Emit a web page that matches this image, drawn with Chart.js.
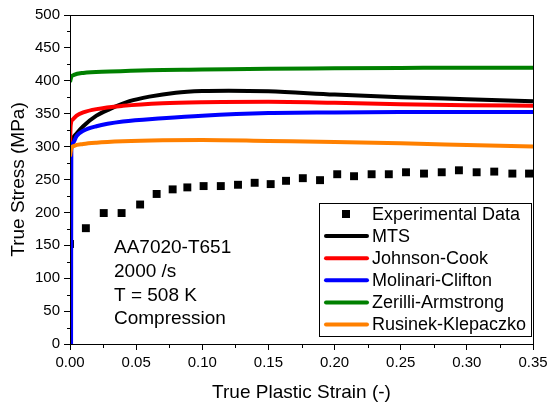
<!DOCTYPE html>
<html lang="en">
<head>
<meta charset="UTF-8">
<title>AA7020-T651 true stress vs strain</title>
<script src="https://cdn.jsdelivr.net/npm/chart.js"></script>
<style>
  html, body { margin: 0; padding: 0; background: #fff; }
</style>
</head>
<body>
<canvas id="stressChart" width="549" height="406"></canvas>
<script>
// experimental points (strain, MPa)
const expStrain = [0.000, 0.012, 0.0255, 0.039, 0.053, 0.0655, 0.0776, 0.0887, 0.101, 0.114, 0.127, 0.1396, 0.1517,
                   0.1633, 0.176, 0.189, 0.202, 0.2147, 0.228, 0.241, 0.254, 0.2676, 0.281, 0.294, 0.3074, 0.3207, 0.3344, 0.347];
const expStress = [152, 176, 199, 199, 212, 228, 235, 238, 240, 240, 242, 245, 243,
                   248, 252, 249, 258, 255, 258, 258, 261, 259, 261, 264, 261, 262, 259, 259];

// model curves
const mtsStrain = [0, 0.002, 0.005, 0.01, 0.02, 0.03, 0.045, 0.06, 0.08, 0.1, 0.12, 0.15, 0.2, 0.25, 0.3, 0.35];
const mtsStress = [300, 312, 320, 331, 347, 357, 369, 376, 382, 384.5, 385, 384, 379, 375, 372, 369];

const jcStrain = [0, 0.0005, 0.002, 0.005, 0.01, 0.02, 0.04, 0.07, 0.1, 0.15, 0.2, 0.25, 0.3, 0.35];
const jcStress = [300, 332, 341, 347, 352, 357, 362, 366, 367.5, 368, 366.5, 364.5, 363, 362];

const mcStrain = [0.0008, 0.001, 0.002, 0.005, 0.01, 0.02, 0.04, 0.07, 0.1, 0.15, 0.2, 0.25, 0.3, 0.35];
const mcStress = [0, 295, 305, 316, 324, 331, 338, 343, 347, 351, 352, 352.5, 352.5, 352.5];

const zaStrain = [0, 0.001, 0.003, 0.01, 0.03, 0.06, 0.1, 0.15, 0.2, 0.25, 0.3, 0.35];
const zaStress = [398, 406, 409, 412, 414, 416, 417, 418.5, 419, 419.5, 420, 420];

const rkStrain = [0, 0.001, 0.003, 0.01, 0.02, 0.04, 0.07, 0.1, 0.15, 0.2, 0.25, 0.3, 0.35];
const rkStress = [285, 297, 301, 304, 306, 308, 309.5, 310, 308.5, 307, 305, 302.5, 300];

const infoLines = ['AA7020-T651', '2000 /s', 'T = 508 K', 'Compression'];

const FONT = "Arial, 'Liberation Sans', sans-serif";

function toPoints(xs, ys) {
    return xs.map((x, i) => ({ x: x, y: ys[i] }));
}

function curve(label, color, xs, ys, order) {
    return {
        label: label,
        data: toPoints(xs, ys),
        showLine: true,
        borderColor: color,
        backgroundColor: color,
        borderWidth: 4,
        pointRadius: 0,
        cubicInterpolationMode: 'monotone',
        order: order
    };
}

// minor ticks, frame, info text and legend box
const decorPlugin = {
    id: 'decor',
    afterDraw(chart) {
        const ctx = chart.ctx;
        const area = chart.chartArea;
        const xs = chart.scales.x;
        const ys = chart.scales.y;
        ctx.save();

        // frame
        ctx.strokeStyle = '#000';
        ctx.lineWidth = 1;
        ctx.strokeRect(area.left + 0.5, area.top + 0.5, area.right - area.left, area.bottom - area.top);

        // minor ticks
        ctx.beginPath();
        for (let v = 25; v < 500; v += 50) {
            const py = Math.round(ys.getPixelForValue(v)) + 0.5;
            ctx.moveTo(area.left - 3, py);
            ctx.lineTo(area.left, py);
        }
        for (let v = 0.025; v < 0.35; v += 0.05) {
            const px = Math.round(xs.getPixelForValue(v)) + 0.5;
            ctx.moveTo(px, area.bottom);
            ctx.lineTo(px, area.bottom + 4);
        }
        ctx.stroke();

        // info text
        ctx.fillStyle = '#000';
        ctx.font = '19px ' + FONT;
        ctx.textBaseline = 'middle';
        ctx.textAlign = 'left';
        infoLines.forEach((t, i) => {
            ctx.fillText(t, area.left + 44, area.bottom - 96 + i * 23.7);
        });

        // legend
        const boxR = area.right - 2;
        const boxB = area.bottom - 8;
        const boxL = boxR - 212;
        const boxT = boxB - 133;
        ctx.fillStyle = '#fff';
        ctx.fillRect(boxL, boxT, boxR - boxL, boxB - boxT);
        ctx.strokeStyle = '#000';
        ctx.strokeRect(boxL + 0.5, boxT + 0.5, boxR - boxL, boxB - boxT);

        ctx.font = '18px ' + FONT;
        chart.data.datasets.forEach((ds, i) => {
            const cy = boxT + 11 + i * 22.1;
            if (ds.showLine) {
                ctx.strokeStyle = ds.borderColor;
                ctx.lineWidth = 4;
                ctx.lineCap = 'round';
                ctx.beginPath();
                ctx.moveTo(boxL + 7, cy);
                ctx.lineTo(boxL + 48, cy);
                ctx.stroke();
            } else {
                ctx.fillStyle = ds.backgroundColor;
                ctx.fillRect(boxL + 23, cy - 4, 8, 8);
            }
            ctx.fillStyle = '#000';
            ctx.fillText(ds.label, boxL + 53, cy + 1);
        });

        ctx.restore();
    }
};

const ctx = document.getElementById('stressChart');
new Chart(ctx, {
    type: 'scatter',
    data: {
        datasets: [
            {
                label: 'Experimental Data',
                data: toPoints(expStrain, expStress),
                showLine: false,
                pointStyle: 'rect',
                pointRadius: 5.6,
                backgroundColor: '#000',
                borderColor: '#000',
                borderWidth: 0,
                clip: 0,
                order: 10
            },
            curve('MTS', '#000000', mtsStrain, mtsStress, 5),
            curve('Johnson-Cook', '#ff0000', jcStrain, jcStress, 4),
            curve('Molinari-Clifton', '#0000ff', mcStrain, mcStress, 3),
            curve('Zerilli-Armstrong', '#008000', zaStrain, zaStress, 2),
            curve('Rusinek-Klepaczko', '#ff8000', rkStrain, rkStress, 1)
        ]
    },
    options: {
        responsive: false,
        animation: false,
        layout: { padding: { left: 0, right: 16, top: 15, bottom: 0 } },
        plugins: {
            legend: { display: false },
            tooltip: { enabled: false }
        },
        scales: {
            x: {
                type: 'linear',
                min: 0,
                max: 0.35,
                afterFit(scale) {
                    scale.height = 62;
                    scale.paddingLeft = 0;
                    scale.paddingRight = 0;
                },
                ticks: {
                    stepSize: 0.05,
                    color: '#000',
                    padding: 4,
                    font: { family: FONT, size: 15 },
                    callback: v => v.toFixed(2)
                },
                grid: { drawOnChartArea: false, drawTicks: true, tickLength: 6, color: '#000' },
                border: { display: true, color: '#000', width: 1 },
                title: {
                    display: true,
                    text: 'True Plastic Strain (-)',
                    color: '#000',
                    font: { family: FONT, size: 19 },
                    padding: { top: 0, bottom: 2 }
                }
            },
            y: {
                type: 'linear',
                min: 0,
                max: 500,
                afterFit(scale) {
                    scale.width = 70;
                    scale.paddingTop = 0;
                    scale.paddingBottom = 0;
                },
                ticks: {
                    stepSize: 50,
                    color: '#000',
                    padding: 4,
                    font: { family: FONT, size: 15 }
                },
                grid: { drawOnChartArea: false, drawTicks: true, tickLength: 6, color: '#000' },
                border: { display: true, color: '#000', width: 1 },
                title: {
                    display: true,
                    text: 'True Stress (MPa)',
                    color: '#000',
                    font: { family: FONT, size: 19 },
                    padding: { top: 7, bottom: 0 }
                }
            }
        }
    },
    plugins: [decorPlugin]
});
</script>
</body>
</html>
